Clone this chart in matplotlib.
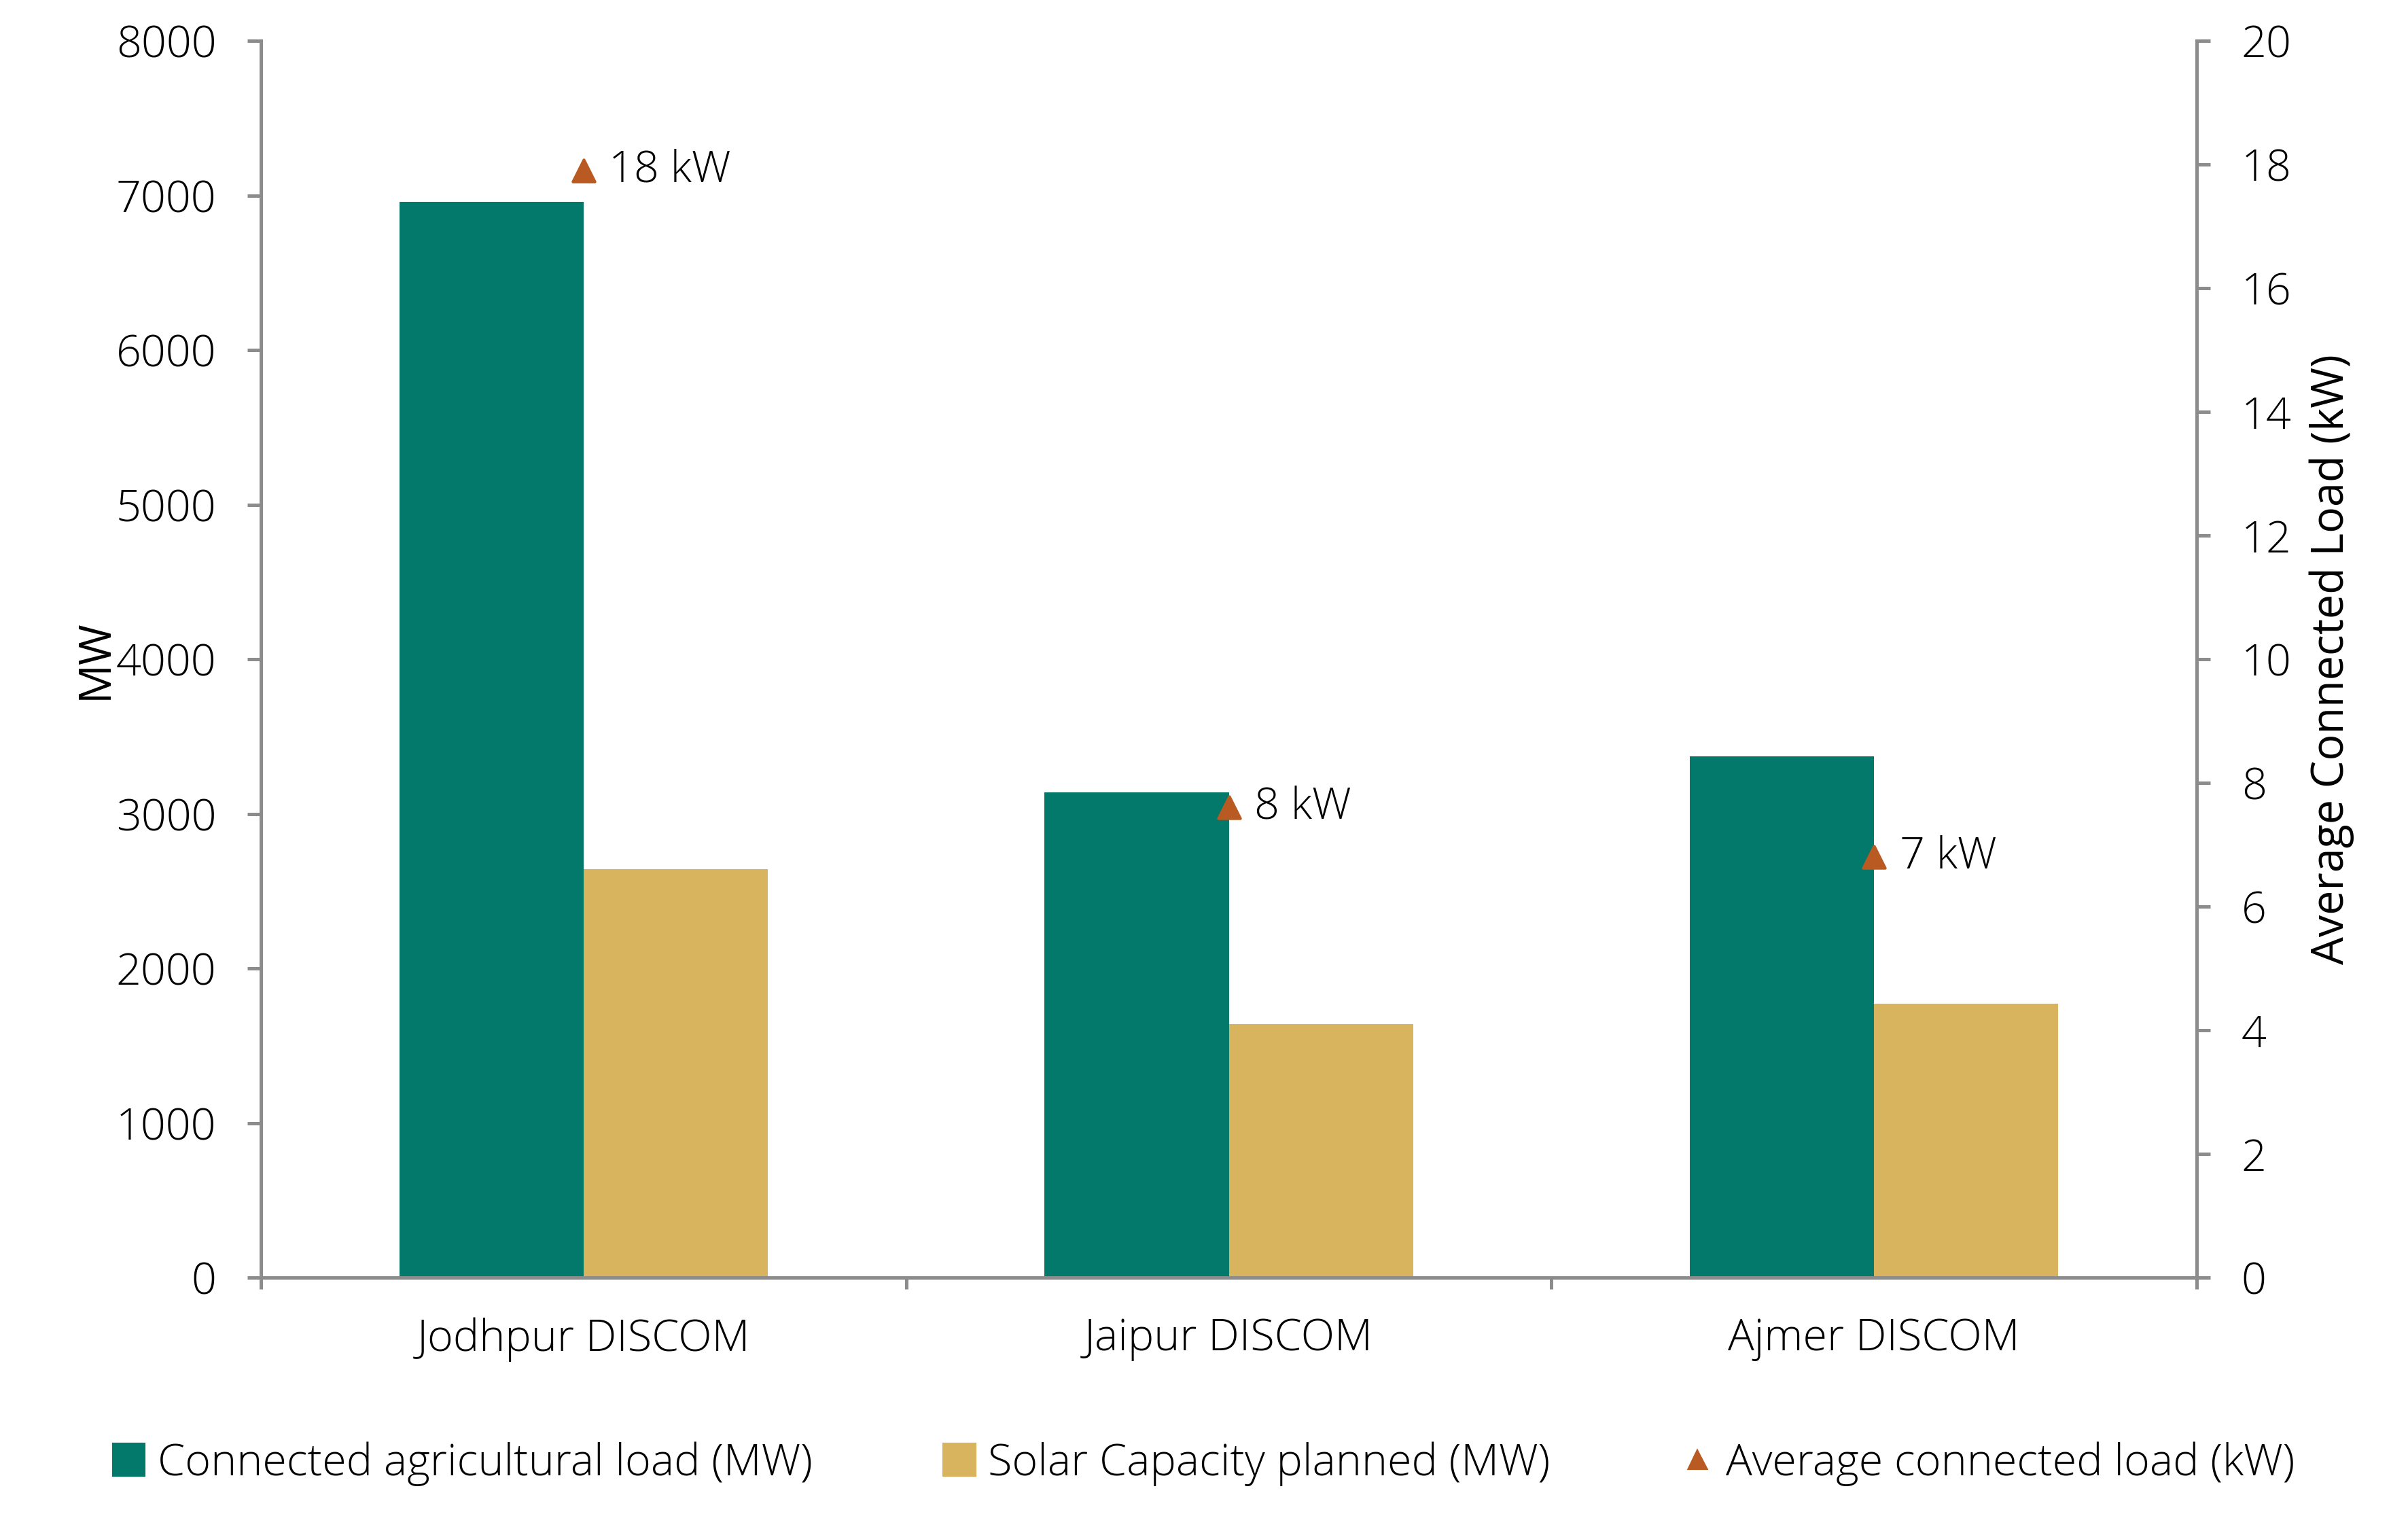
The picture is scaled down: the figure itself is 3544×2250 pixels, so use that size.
import matplotlib
matplotlib.use("Agg")
import matplotlib.pyplot as plt
import numpy as np
from matplotlib.patches import Patch
from matplotlib.lines import Line2D

categories = ["Jodhpur DISCOM", "Jaipur DISCOM", "Ajmer DISCOM"]
connected_load_mw = [6960, 3140, 3370]
solar_planned_mw = [2640, 1640, 1770]
avg_load_kw = [17.9, 7.6, 6.8]
avg_labels = ["18 kW", "8 kW", "7 kW"]

GREEN = "#02796B"
GOLD = "#D8B45F"
RUST = "#B85A21"
AXC = "#8C8C8C"
FS = 15.5

plt.rcParams['font.family'] = ['Open Sans', 'DejaVu Sans']
plt.rcParams['font.weight'] = 'light'

fig = plt.figure(figsize=(3544/300, 2250/300), dpi=300)
ax = fig.add_axes([0.1084, 0.1644, 0.9122-0.1084, 0.9733-0.1644])
ax2 = ax.twinx()

x = np.arange(len(categories))
w = 0.2857
ax.bar(x - w/2, connected_load_mw, width=w, color=GREEN, label="Connected agricultural load (MW)")
ax.bar(x + w/2, solar_planned_mw, width=w, color=GOLD, label="Solar Capacity planned (MW)")
ax2.scatter(x, avg_load_kw, marker='^', s=60, color=RUST, zorder=5)
for xi, yi, lab in zip(x, avg_load_kw, avg_labels):
    ax2.annotate(lab, (xi, yi), xytext=(9, 0), textcoords='offset points',
                 va='center', ha='left', fontsize=FS)

ax.set_xlim(-0.5, 2.5)
ax.set_ylim(0, 8000)
ax2.set_ylim(0, 20)
ax.set_yticks(np.arange(0, 8001, 1000))
ax2.set_yticks(np.arange(0, 21, 2))
ax.set_xticks(x)
ax.set_xticklabels(categories)
ax.set_xticks([-0.5, 0.5, 1.5, 2.5], minor=True)

for a in (ax, ax2):
    for s in a.spines.values():
        s.set_color(AXC)
        s.set_linewidth(1.2)
    a.spines['top'].set_visible(False)
ax.spines['right'].set_visible(False)
ax2.spines['left'].set_visible(False)
ax2.spines['bottom'].set_visible(False)

ax.tick_params(axis='y', length=4.8, width=1.2, color=AXC, pad=11, labelsize=FS)
ax2.tick_params(axis='y', length=4.8, width=1.2, color=AXC, pad=11, labelsize=FS)
ax.tick_params(axis='x', which='major', length=0, pad=14, labelsize=FS)
ax.tick_params(axis='x', which='minor', length=4, width=1.2, color=AXC)

ax.set_ylabel("MW", fontsize=FS)
ax.yaxis.set_label_coords(-0.074, 0.5)
ax2.set_ylabel("Average Connected Load (kW)", fontsize=FS)
ax2.yaxis.set_label_coords(1.058, 0.5)

handles = [Patch(color=GREEN), Patch(color=GOLD),
           Line2D([], [], marker='^', color=RUST, linestyle='none', markersize=6)]
labels = ["Connected agricultural load (MW)", "Solar Capacity planned (MW)", "Average connected load (kW)"]
fig.legend(handles, labels, loc='center', bbox_to_anchor=(0.5, 0.0427), ncol=3,
           frameon=False, fontsize=FS, handlelength=0.7, handleheight=0.7,
           handletextpad=0.3, columnspacing=3.0)

fig.savefig("out.png", dpi=300, facecolor='white')
